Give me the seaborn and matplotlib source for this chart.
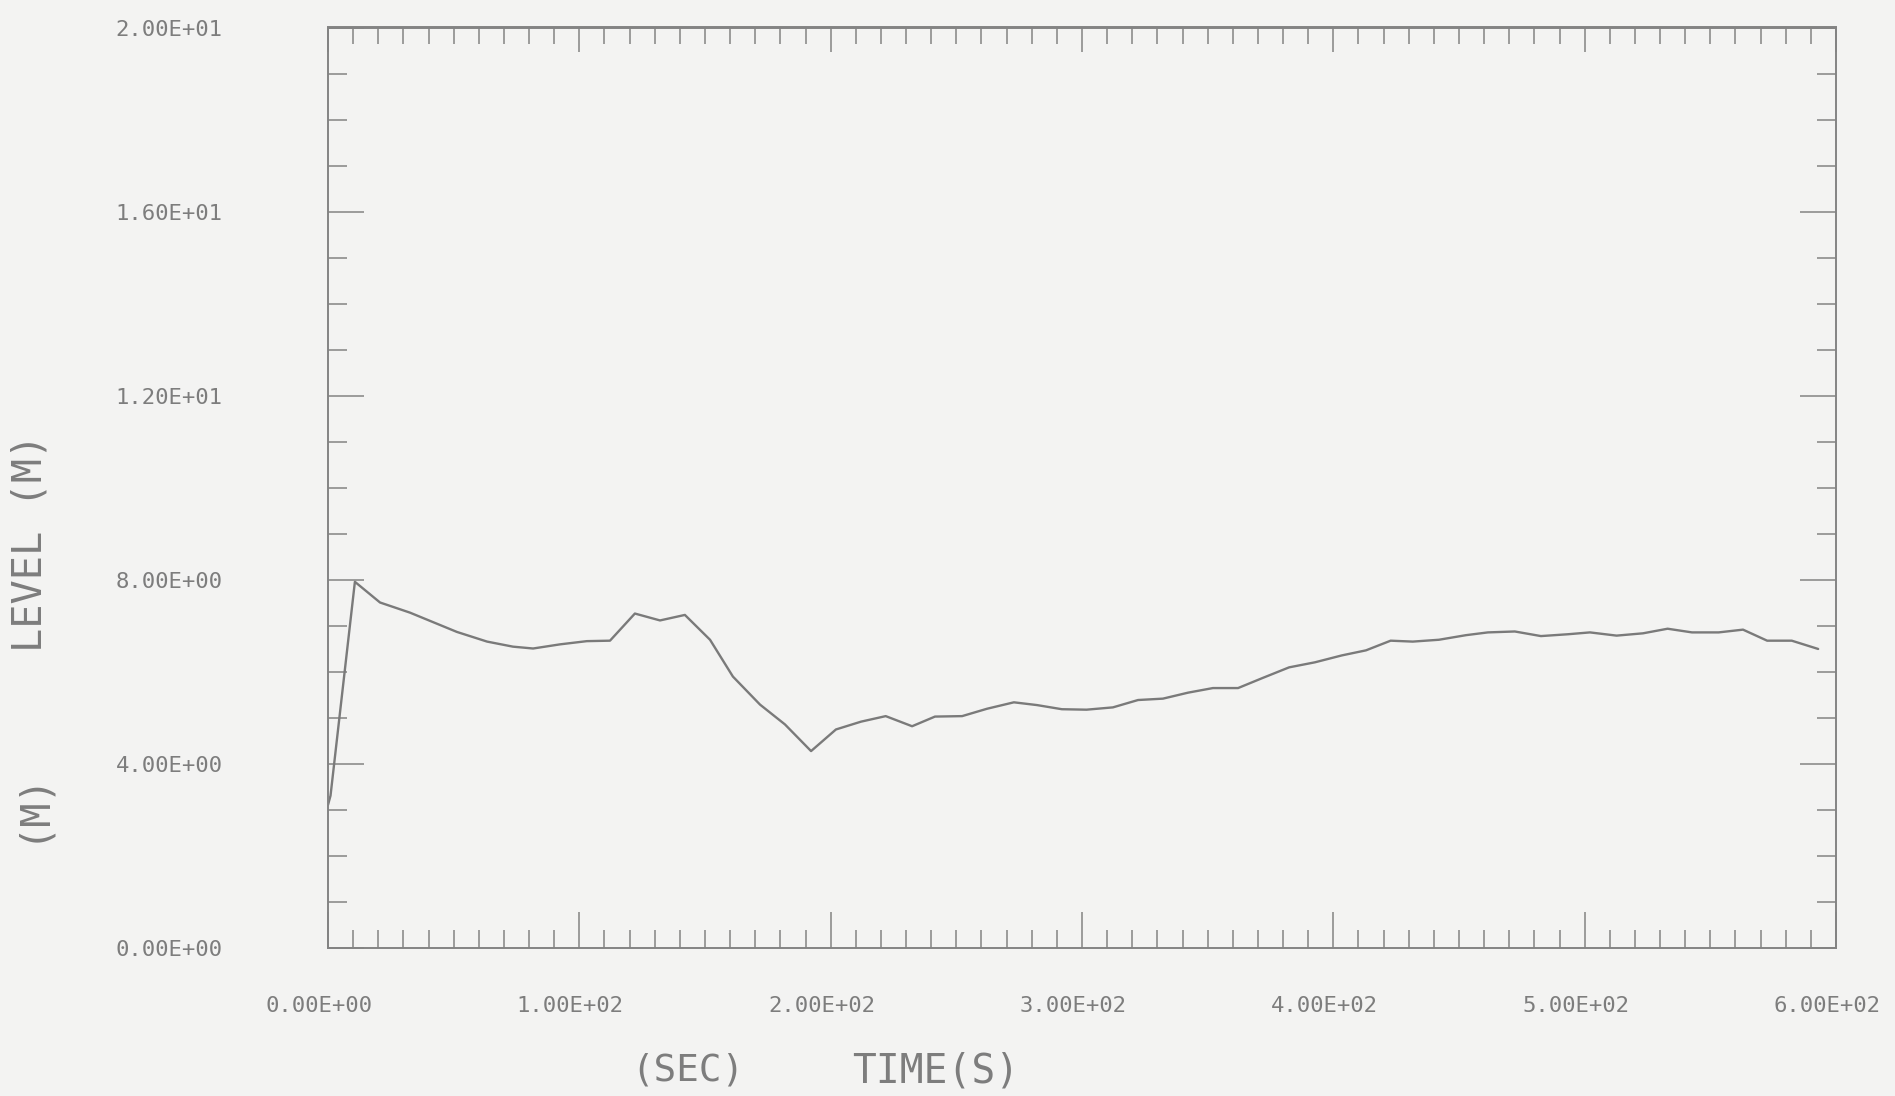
import matplotlib
matplotlib.use("Agg")
import matplotlib.pyplot as plt
import matplotlib.transforms as mtransforms
from matplotlib.ticker import MultipleLocator, FixedLocator
import seaborn as sns
import pandas as pd

# Water level history
time_s = [0.0, 1.0, 10.7, 20.7, 32.6, 51.3, 63.3, 73.6, 81.6, 92.3,
          103.0, 112.2, 122.1, 132.1, 142.0, 152.0, 161.1, 171.9, 181.8, 192.2,
          202.1, 212.1, 221.9, 232.4, 241.5, 252.3, 262.2, 272.9, 282.1, 292.0,
          301.8, 312.3, 322.3, 332.2, 342.2, 352.1, 362.1, 371.9, 382.4, 392.7,
          403.4, 413.0, 422.8, 431.6, 442.0, 452.8, 461.5, 472.2, 482.6, 493.4,
          502.1, 512.7, 523.2, 533.0, 542.7, 553.3, 563.0, 572.6, 582.4, 592.9]
level_m = [3.10, 3.30, 7.95, 7.50, 7.28, 6.86, 6.65, 6.54, 6.50, 6.59,
           6.66, 6.67, 7.26, 7.11, 7.23, 6.69, 5.89, 5.28, 4.85, 4.27,
           4.74, 4.91, 5.03, 4.81, 5.02, 5.03, 5.19, 5.33, 5.27, 5.18,
           5.17, 5.22, 5.38, 5.41, 5.54, 5.64, 5.64, 5.86, 6.09, 6.20,
           6.35, 6.46, 6.67, 6.65, 6.69, 6.79, 6.85, 6.87, 6.77, 6.81,
           6.85, 6.78, 6.83, 6.93, 6.85, 6.85, 6.91, 6.67, 6.67, 6.49]

x_ticks = [0, 100, 200, 300, 400, 500, 600]
x_tick_labels = ["0.00E+00", "1.00E+02", "2.00E+02", "3.00E+02",
                 "4.00E+02", "5.00E+02", "6.00E+02"]
y_ticks = [0, 4, 8, 12, 16, 20]
y_tick_labels = ["0.00E+00", "4.00E+00", "8.00E+00", "1.20E+01",
                 "1.60E+01", "2.00E+01"]

df = pd.DataFrame({"time": time_s, "level": level_m})

sns.set_theme(style="ticks")
plt.rcParams["font.family"] = ["DejaVu Sans Mono", "DejaVu Sans"]

paper = "#f3f3f2"
ink = "#838383"
line_ink = "#7a7a7a"
text_ink = "#7d7d7d"

fig = plt.figure(figsize=(18.95, 10.96), dpi=100, facecolor=paper)
ax = fig.add_axes([328 / 1895, 1 - 947.5 / 1096, 1508 / 1895, 920 / 1096])
ax.set_facecolor(paper)

sns.lineplot(data=df, x="time", y="level", ax=ax, color=line_ink,
             linewidth=1.7, sort=False)

ax.set_xlim(0, 600)
ax.set_ylim(0, 20)

ax.xaxis.set_major_locator(FixedLocator(x_ticks))
ax.set_xticklabels(x_tick_labels)
ax.xaxis.set_minor_locator(MultipleLocator(10))
ax.yaxis.set_major_locator(FixedLocator(y_ticks))
ax.set_yticklabels(y_tick_labels)
ax.yaxis.set_minor_locator(MultipleLocator(1))

for side in ["left", "right", "top", "bottom"]:
    ax.spines[side].set_visible(True)
    ax.spines[side].set_color(ink)
    ax.spines[side].set_linewidth(1.4)

ax.tick_params(axis="both", which="both", direction="in", color=ink,
               width=1.1, labelcolor=text_ink, labelsize=16)
ax.tick_params(axis="y", which="both", left=True, right=True)
ax.tick_params(axis="y", which="major", length=26, pad=76)
ax.tick_params(axis="y", which="minor", length=13.5)
ax.tick_params(axis="x", which="both", bottom=True, top=False)
ax.tick_params(axis="x", which="major", length=26, pad=35)
ax.tick_params(axis="x", which="minor", length=13)

# top edge carries its own, shorter tick marks
top = ax.secondary_xaxis("top")
top.xaxis.set_major_locator(FixedLocator(x_ticks))
top.xaxis.set_minor_locator(MultipleLocator(10))
top.tick_params(axis="x", which="both", direction="in", color=ink,
                width=1.1, labeltop=False)
top.tick_params(axis="x", which="major", length=18)
top.tick_params(axis="x", which="minor", length=12.5)
top.spines["top"].set_color(ink)
top.spines["top"].set_linewidth(1.4)

# x labels sit slightly left of their ticks
shift = mtransforms.ScaledTranslation(-9 / 100, 0, fig.dpi_scale_trans)
for lab in ax.get_xticklabels():
    lab.set_transform(lab.get_transform() + shift)

ax.set_xlabel("")
ax.set_ylabel("")

# axis titles
fig.text(688 / 1895, 1 - 1071 / 1096, "(SEC)", ha="center", va="center",
         fontsize=27, color=text_ink)
fig.text(936 / 1895, 1 - 1071 / 1096, "TIME(S)", ha="center", va="center",
         fontsize=28.5, color=text_ink)
fig.text(31 / 1895, 1 - 543 / 1096, "LEVEL (M)", ha="center", va="center",
         rotation=90, fontsize=29, color=text_ink)
fig.text(31 / 1895, 1 - 806 / 1096, "(M)", ha="center", va="center",
         rotation=90, fontsize=29, color=text_ink)

fig.savefig("out.png", dpi=100, facecolor=paper)
